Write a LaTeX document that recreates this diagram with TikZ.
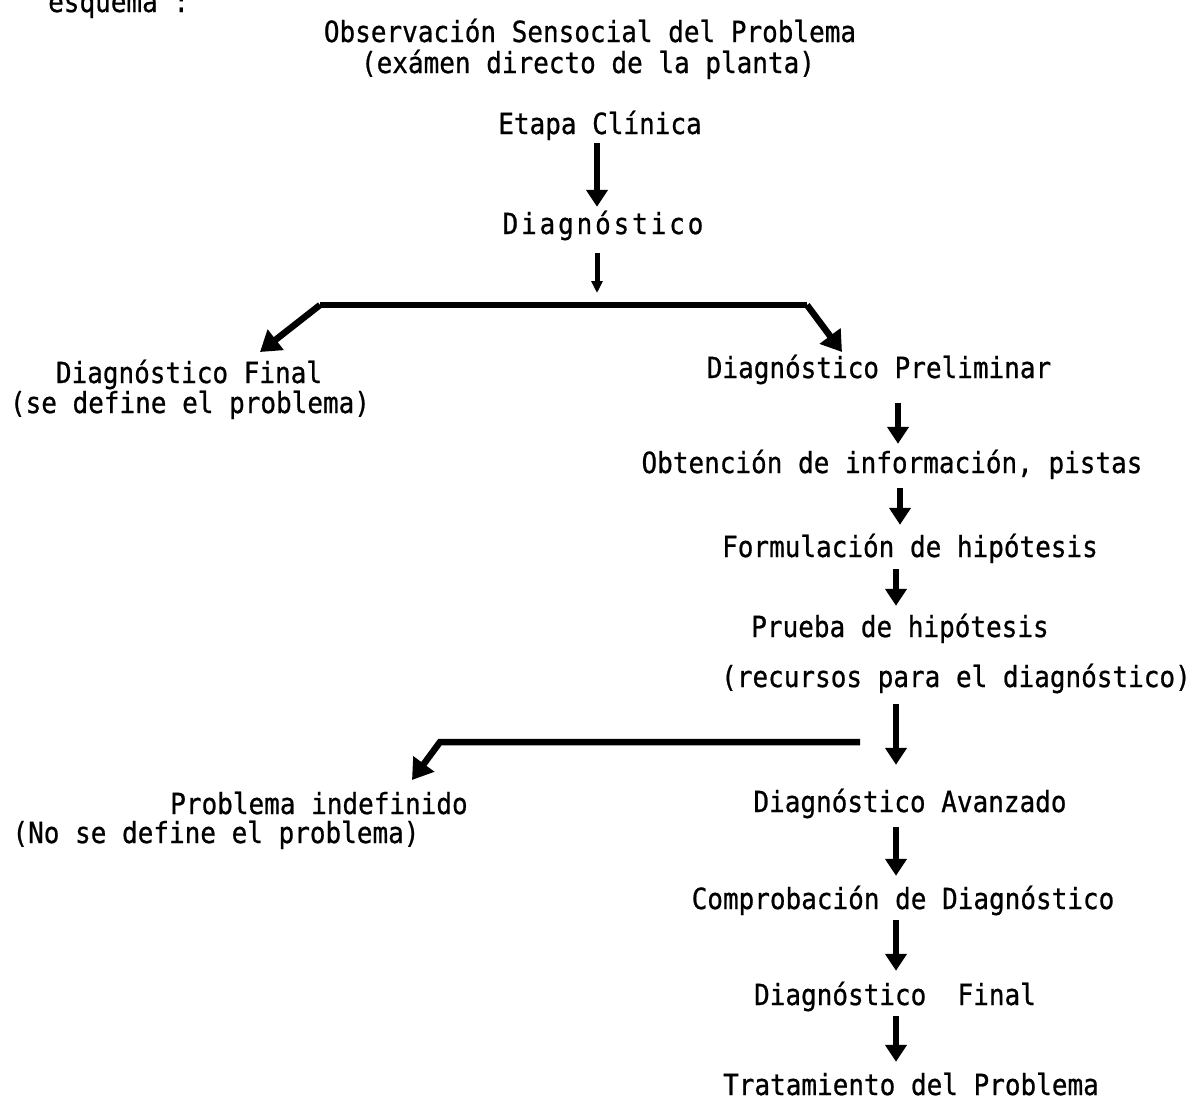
\documentclass[tikz,border=0pt]{standalone}
\usepackage{fontspec}
\setmainfont{DejaVu Sans Mono}[FakeBold=0.8]
\usetikzlibrary{arrows.meta}
\newcommand{\tall}[1]{\scalebox{1}[1.12]{#1}}
\begin{document}
\begin{tikzpicture}[x=1pt,y=-1pt,
  lbl/.style={anchor=base,inner sep=0pt,text height=20pt,text depth=6pt,
              font=\fontsize{26}{30}\selectfont},
  arr/.style={line width=6pt,-{Triangle[width=21pt,length=17pt]}},
  arrbig/.style={line width=6.5pt,-{Triangle[width=25pt,length=20pt]}},
  arrsmall/.style={line width=5pt,-{Triangle[width=11pt,length=12pt]}},
  bar/.style={line width=6.5pt}]
\useasboundingbox (0,0) rectangle (1196,1106);
% texts
\node[lbl,anchor=base west] (esq) at (48,12) {\tall{esquema :}};
\node[lbl] (obs) at (590,42) {\tall{Observación Sensocial del Problema}};
\node[lbl] (exa) at (588,73) {\tall{(exámen directo de la planta)}};
\node[lbl] (et) at (600,134) {\tall{Etapa Clínica}};
\node[lbl] (dg) at (603,234) {\tall{\addfontfeature{LetterSpace=11}Diagnóstico}};
\node[lbl] (dgf) at (189,383) {\tall{Diagnóstico Final}};
\node[lbl] (sedef) at (190,413) {\tall{(se define el problema)}};
\node[lbl] (pre) at (879,378) {\tall{Diagnóstico Preliminar}};
\node[lbl] (obt) at (892,473) {\tall{Obtención de información, pistas}};
\node[lbl] (form) at (910,557) {\tall{Formulación de hipótesis}};
\node[lbl] (prue) at (900,637) {\tall{Prueba de hipótesis}};
\node[lbl] (recu) at (956,687) {\tall{(recursos para el diagnóstico)}};
\node[lbl] (pind) at (319,814) {\tall{Problema indefinido}};
\node[lbl] (nodef) at (216,843) {\tall{(No se define el problema)}};
\node[lbl] (ava) at (910,812) {\tall{Diagnóstico Avanzado}};
\node[lbl] (comp) at (903,909) {\tall{Comprobación de Diagnóstico}};
\node[lbl] (fin2) at (895,1005) {\tall{Diagnóstico\ \ Final}};
\node[lbl] (trat) at (911,1095) {\tall{Tratamiento del Problema}};
% branch coordinates
\coordinate (jm) at (597,305);
\coordinate (jl) at (320,305);
\coordinate (jr) at (807,305);
\coordinate (tl) at (260,352);
\coordinate (tr) at (842,352);
\coordinate (hr) at (860,742);
\coordinate (hb) at (440,742);
\coordinate (ht) at (412,780);
% connectors
\draw[arr,shorten <=3pt,shorten >=7pt] (et.south -| 597,0) -- (dg.north -| 597,0);
\draw[arrsmall,shorten <=13pt,shorten >=12pt] (dg.south -| jm) -- (jm);
\draw[bar] (jl) -- (jr);
\draw[arrbig] (jl) -- (tl);
\draw[arrbig] (jr) -- (tr);
\draw[arr,shorten <=19pt,shorten >=9pt] (pre.south -| 898,0) -- (obt.north -| 898,0);
\draw[arr,shorten <=9pt,shorten >=12pt] (obt.south -| 900,0) -- (form.north -| 900,0);
\draw[arr,shorten <=6pt,shorten >=11pt] (form.south -| 896,0) -- (prue.north -| 896,0);
\draw[arr,shorten <=11pt,shorten >=27pt] (recu.south -| 896,0) -- (ava.north -| 896,0);
\draw[arrbig,line join=miter] (hr) -- (hb) -- (ht);
\draw[arr,shorten <=9pt,shorten >=13pt] (ava.south -| 896,0) -- (comp.north -| 896,0);
\draw[arr,shorten <=5pt,shorten >=14pt] (comp.south -| 896,0) -- (fin2.north -| 896,0);
\draw[arr,shorten <=5pt,shorten >=13pt] (fin2.south -| 896,0) -- (trat.north -| 896,0);
\end{tikzpicture}
\end{document}
